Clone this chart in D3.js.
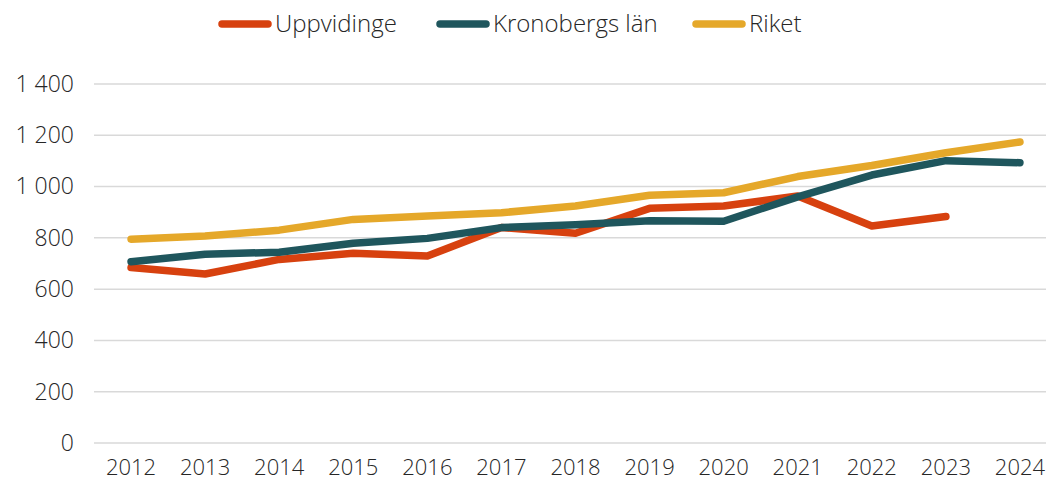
<!DOCTYPE html>
<html>
<head>
<meta charset="utf-8">
<script src="https://cdn.jsdelivr.net/npm/d3@7"></script>
<style>
  body { margin: 0; background: #fff; }
  text { font-family: "Open Sans", sans-serif; font-weight: 300; fill: #262626; }
</style>
</head>
<body>
<div id="chart"></div>
<script>
var years = ["2012", "2013", "2014", "2015", "2016", "2017", "2018", "2019", "2020", "2021", "2022", "2023", "2024"];
var uppvidinge = [684, 659, 716, 740, 729, 840, 818, 915, 924, 963, 846, 883, null];
var kronoberg = [707, 736, 744, 779, 798, 840, 851, 867, 865, 960, 1045, 1101, 1093];
var riket = [795, 807, 830, 872, 885, 898, 924, 966, 976, 1039, 1082, 1132, 1174];
var yTicks = [0, 200, 400, 600, 800, 1000, 1200, 1400];
var seriesNames = ["Uppvidinge", "Kronobergs län", "Riket"];

function init() {
    var w = 1046, h = 484;
    var left = 94, right = 1057, top = 84, bottom = 443;
    var colors = ["#d7410f", "#1f565d", "#e5a82a"];
    var series = [uppvidinge, kronoberg, riket];

    var svg = d3.select("#chart").append("svg").attr("width", w).attr("height", h);

    var x = d3.scaleBand().domain(years).range([left, right]);
    var y = d3.scaleLinear().domain([0, 1400]).range([bottom, top]);

    // gridlines
    svg.append("g").selectAll("line").data(yTicks).enter().append("line")
        .attr("x1", left).attr("x2", w)
        .attr("y1", d => y(d)).attr("y2", d => y(d))
        .attr("stroke", "#d9d9d9").attr("stroke-width", 1.5);

    // y axis labels
    var yAxis = d3.axisLeft(y).tickValues(yTicks).tickSize(0).tickPadding(0)
        .tickFormat(d => d3.format(",")(d).replace(",", " "));
    var gy = svg.append("g").attr("transform", "translate(74,0)").call(yAxis);
    gy.select(".domain").remove();
    gy.selectAll("text").style("font-size", "23px").style("font-family", null);

    // x axis labels
    var xAxis = d3.axisBottom(x).tickSize(0).tickPadding(0);
    var gx = svg.append("g").attr("transform", "translate(0,459)").call(xAxis);
    gx.select(".domain").remove();
    gx.selectAll("text").style("font-size", "22px").style("font-family", null);

    var line = d3.line()
        .defined(d => d != null)
        .x((d, i) => x(years[i]) + x.bandwidth() / 2)
        .y(d => y(d));

    series.forEach(function (s, k) {
        svg.append("path").attr("d", line(s))
            .attr("fill", "none").attr("stroke", colors[k])
            .attr("stroke-width", 7.5)
            .attr("stroke-linecap", "round").attr("stroke-linejoin", "round");
    });

    // legend
    var legX = [218, 436, 692];
    var leg = svg.append("g");
    seriesNames.forEach(function (name, k) {
        leg.append("line").attr("x1", legX[k] + 4).attr("x2", legX[k] + 50)
            .attr("y1", 24).attr("y2", 24)
            .attr("stroke", colors[k]).attr("stroke-width", 7.5).attr("stroke-linecap", "round");
        leg.append("text").attr("x", legX[k] + 57).attr("y", 32)
            .style("font-size", "24px").text(name);
    });
}
window.onload = init;
</script>
</body>
</html>
